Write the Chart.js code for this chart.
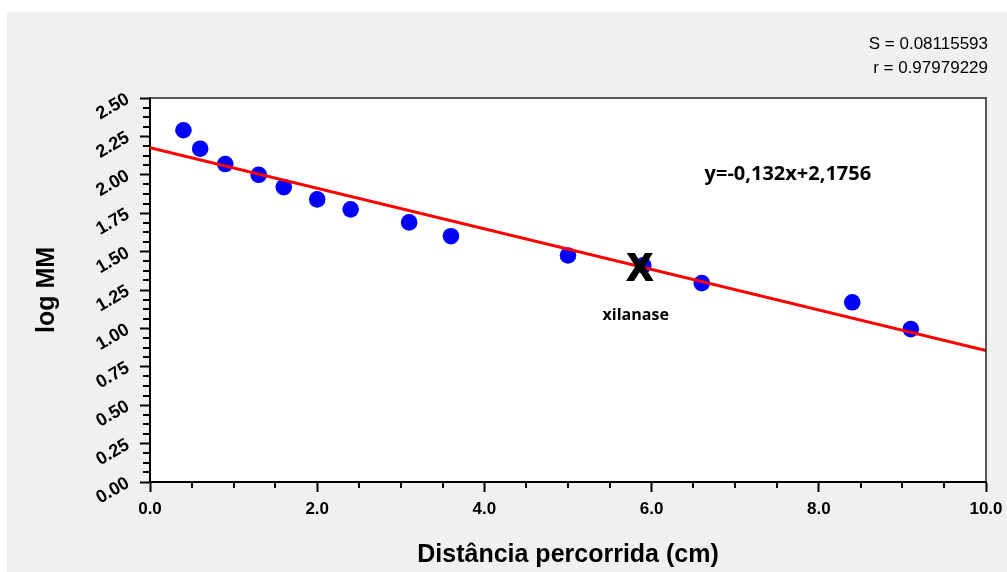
<!DOCTYPE html>
<html>
<head>
<meta charset="utf-8">
<script src="https://cdn.jsdelivr.net/npm/chart.js@4.4.1/dist/chart.umd.min.js"></script>
<style>
  html, body { margin: 0; padding: 0; background: #ffffff; }
  #bg { position: absolute; left: 7px; top: 12px; width: 1000px; height: 560px; background: #f0f0f0; }
  #c { position: absolute; left: 0; top: 0; }
</style>
</head>
<body>
<div id="bg"></div>
<canvas id="c" width="1007" height="572"></canvas>
<script>
// ---- data ----
const distance = [0.4, 0.6, 0.9, 1.3, 1.6, 2.0, 2.4, 3.1, 3.6, 5.0, 5.9, 6.6, 8.4, 9.1];
const logMM    = [2.29, 2.17, 2.07, 2.00, 1.92, 1.84, 1.775, 1.69, 1.60, 1.475, 1.41, 1.295, 1.17, 0.995];
const fitX = [0, 10];
const fitY = [2.1756, 0.8556];
const xilanaseX = [5.86];
const xilanaseY = [1.38];
const equationText = 'y=-0,132x+2,1756';
const statsText = ['S = 0.08115593', 'r = 0.97979229'];
const xTitle = 'Distância percorrida (cm)';
const yTitle = 'log MM';

const pointData = distance.map((d, i) => ({ x: d, y: logMM[i] }));
const fitData = fitX.map((d, i) => ({ x: d, y: fitY[i] }));

const decorPlugin = {
  id: 'decor',
  beforeDraw(chart) {
    const { ctx, chartArea: a } = chart;
    ctx.save();
    ctx.fillStyle = '#ffffff';
    ctx.fillRect(a.left, a.top, a.right - a.left, a.bottom - a.top);
    ctx.restore();
  },
  afterDraw(chart) {
    const { ctx, chartArea: a, scales: { x, y } } = chart;
    ctx.save();
    // top & right frame
    ctx.strokeStyle = '#222';
    ctx.lineWidth = 1.5;
    ctx.beginPath();
    ctx.moveTo(a.left, a.top);
    ctx.lineTo(a.right, a.top);
    ctx.lineTo(a.right, a.bottom);
    ctx.stroke();
    // minor ticks
    ctx.strokeStyle = '#000';
    ctx.lineWidth = 2;
    ctx.beginPath();
    for (let i = 0; i <= 40; i++) {
      if (i % 4 === 0) continue;
      const py = Math.round(y.getPixelForValue(i * 0.0625));
      ctx.moveTo(a.left - 7, py);
      ctx.lineTo(a.left, py);
    }
    for (let i = 0; i <= 20; i++) {
      if (i % 4 === 0) continue;
      const px = Math.round(x.getPixelForValue(i * 0.5));
      ctx.moveTo(px, a.bottom);
      ctx.lineTo(px, a.bottom + 6);
    }
    ctx.stroke();
    // annotations
    ctx.fillStyle = '#000';
    ctx.textAlign = 'center';
    ctx.textBaseline = 'middle';
    ctx.font = 'bold 37px "Liberation Sans", Arial, sans-serif';
    ctx.lineWidth = 2;
    ctx.strokeStyle = '#000';
    const xx = x.getPixelForValue(xilanaseX[0]), xy = y.getPixelForValue(xilanaseY[0]);
    ctx.fillText('X', xx, xy);
    ctx.strokeText('X', xx, xy);
    ctx.font = 'bold 16px "Open Sans", sans-serif';
    ctx.fillText('xilanase', x.getPixelForValue(5.81), y.getPixelForValue(1.087));
    ctx.font = 'bold 20px "Open Sans", sans-serif';
    ctx.fillText(equationText, x.getPixelForValue(7.63), y.getPixelForValue(2.005));
    // stats
    ctx.textAlign = 'right';
    ctx.font = '17px "Liberation Sans", Arial, sans-serif';
    ctx.fillText(statsText[0], 988, 44);
    ctx.fillText(statsText[1], 988, 68);
    ctx.restore();
  }
};

new Chart(document.getElementById('c'), {
  type: 'scatter',
  data: {
    datasets: [
      {
        label: 'fit',
        data: fitData,
        showLine: true,
        borderColor: '#ff0000',
        borderWidth: 3,
        pointRadius: 0,
        fill: false,
        order: 0
      },
      {
        label: 'log MM',
        data: pointData,
        backgroundColor: '#0000ff',
        borderColor: '#0000ff',
        borderWidth: 0,
        pointRadius: 8.3,
        order: 1
      }
    ]
  },
  options: {
    responsive: false,
    animation: false,
    devicePixelRatio: 1,
    layout: { padding: { top: 98, right: 21, left: 0, bottom: 0 } },
    plugins: { legend: { display: false }, tooltip: { enabled: false } },
    scales: {
      x: {
        type: 'linear',
        min: 0, max: 10,
        afterFit(s) { s.height = 90; s.paddingRight = 0; s.paddingLeft = 0; },
        border: { display: true, color: '#000', width: 2 },
        grid: { drawOnChartArea: false, drawTicks: true, tickLength: 10, tickColor: '#000', tickWidth: 2 },
        ticks: {
          stepSize: 2,
          padding: 7,
          color: '#000',
          font: { family: '"Liberation Sans", Arial, sans-serif', size: 17, weight: 'bold' },
          callback: v => Number(v).toFixed(1)
        },
        title: {
          display: true,
          text: xTitle,
          color: '#000',
          padding: { top: 0, bottom: 2 },
          font: { family: '"Liberation Sans", Arial, sans-serif', size: 25, weight: 'bold' }
        }
      },
      y: {
        type: 'linear',
        min: 0, max: 2.5,
        afterFit(s) { s.width = 150; s.paddingTop = 0; s.paddingBottom = 0; },
        border: { display: true, color: '#000', width: 2 },
        grid: { drawOnChartArea: false, drawTicks: true, tickLength: 10, tickColor: '#000', tickWidth: 2 },
        ticks: {
          stepSize: 0.25,
          padding: 12,
          minRotation: 30,
          maxRotation: 30,
          color: '#000',
          font: { family: '"Liberation Sans", Arial, sans-serif', size: 18, weight: 'bold' },
          callback: v => Number(v).toFixed(2)
        },
        title: {
          display: true,
          text: yTitle,
          color: '#000',
          padding: { top: 32, bottom: 0 },
          font: { family: '"Liberation Sans", Arial, sans-serif', size: 25, weight: 'bold' }
        }
      }
    }
  },
  plugins: [decorPlugin]
});
</script>
</body>
</html>
